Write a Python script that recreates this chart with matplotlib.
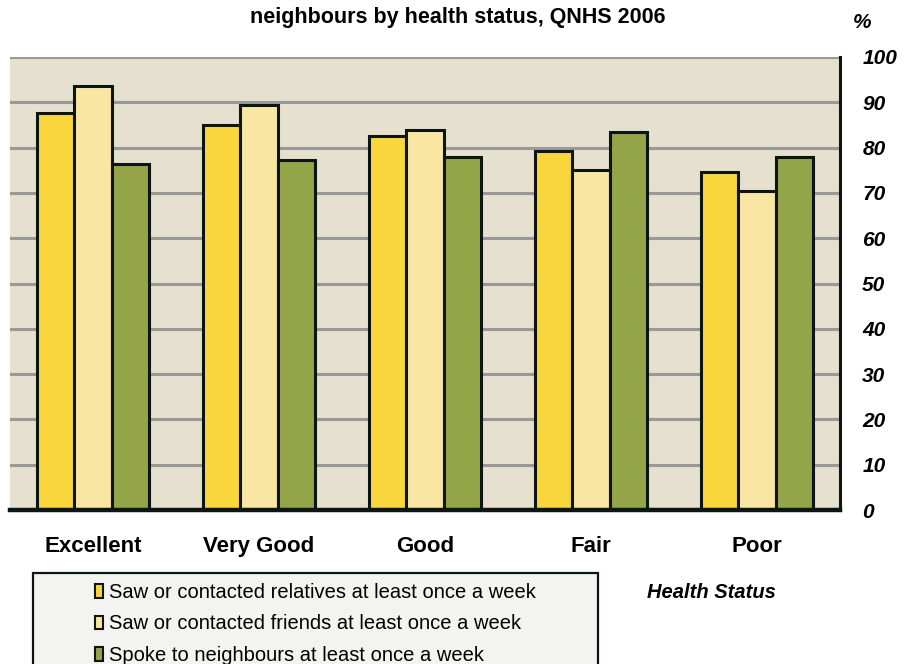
import numpy as np
import matplotlib
matplotlib.use("Agg")
import matplotlib.pyplot as plt
from matplotlib.patches import Rectangle, Patch

plt.rcParams["font.family"] = ["Liberation Sans", "DejaVu Sans"]

categories = ["Excellent", "Very Good", "Good", "Fair", "Poor"]
series_names = [
    "Saw or contacted relatives at least once a week",
    "Saw or contacted friends at least once a week",
    "Spoke to neighbours at least once a week",
]
relatives = [87.6, 85.0, 82.6, 79.2, 74.6]
friends = [93.6, 89.4, 83.9, 75.1, 70.4]
neighbours = [76.4, 77.3, 77.9, 83.4, 77.9]
yticks = [0, 10, 20, 30, 40, 50, 60, 70, 80, 90, 100]

colors = ["#F9D73C", "#F9E6A2", "#93A548"]
edge = "#0D1512"

fig = plt.figure(figsize=(9.07, 6.64), dpi=100)
ax = fig.add_axes([10 / 907, 1 - 510 / 664, 830 / 907, 453 / 664])
ax.set_facecolor("#E6E0CE")

x = np.arange(len(categories))
w = 0.223
for i, vals in enumerate([relatives, friends, neighbours]):
    ax.bar(x + (i - 1) * w, vals, width=w, color=colors[i],
           edgecolor=edge, linewidth=2.2, zorder=3)

ax.set_xlim(-0.5, len(categories) - 0.5)
ax.set_ylim(0, 100)
ax.set_yticks(yticks)
ax.yaxis.tick_right()
ax.set_yticklabels([str(t) for t in yticks], fontsize=15, fontweight="bold",
                   fontstyle="italic", ha="left")
ax.tick_params(axis="y", length=0, pad=16)
ax.grid(axis="y", color="#999999", linewidth=2.2, zorder=1)
ax.set_xticks(x)
ax.set_xticklabels(categories, fontsize=16, fontweight="bold")
ax.tick_params(axis="x", length=0, pad=19)

for s in ["left", "top"]:
    ax.spines[s].set_visible(False)
ax.spines["right"].set_color(edge)
ax.spines["right"].set_linewidth(2.2)
ax.spines["bottom"].set_color(edge)
ax.spines["bottom"].set_linewidth(3.2)
ax.spines["bottom"].set_zorder(4)

fig.text(458 / 907, 1 - 17 / 664, "neighbours by health status, QNHS 2006",
         ha="center", va="center", fontsize=15.5, fontweight="bold")
fig.text(862 / 907, 1 - 22 / 664, "%", ha="center", va="center",
         fontsize=15, fontweight="bold", fontstyle="italic")
fig.text(647 / 907, 1 - 592 / 664, "Health Status", ha="left", va="center",
         fontsize=14.5, fontweight="bold", fontstyle="italic")

# legend box (runs off the bottom of the figure)
fig.patches.append(Rectangle((33 / 907, -0.05), 565 / 907, 0.05 + 91 / 664,
                             transform=fig.transFigure, facecolor="#F3F4F1",
                             edgecolor=edge, linewidth=1.6, zorder=0))
handles = [Patch(facecolor=c, edgecolor=edge, linewidth=1.5) for c in colors]
fig.legend(handles, series_names, loc="upper left",
           bbox_to_anchor=(95 / 907, 1 - 583 / 664), frameon=False,
           fontsize=14.5, handlelength=0.4, handleheight=0.65,
           handletextpad=0.3, labelspacing=0.62, borderpad=0,
           borderaxespad=0)

fig.savefig("out.png", dpi=100)
